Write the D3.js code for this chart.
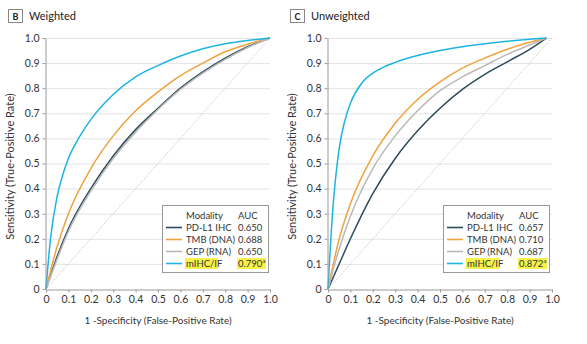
<!DOCTYPE html>
<meta charset="utf-8">
<style>
body { margin:0; background:#fff; font-family:"Lato", "Open Sans", sans-serif; }
.grid line { stroke:#e3e3e3; stroke-width:1; }
.axis path, .axis line { stroke:#999; }
.axis text { fill:#333; font-size:10.5px; font-family:"Lato", sans-serif; }
.title { font-size:11px; fill:#222; }
</style>
<svg width="587" height="344"></svg>
<script src="https://d3js.org/d3.v7.min.js"></script>
<script>

var modalities = ["PD-L1 IHC", "TMB (DNA)", "GEP (RNA)", "mIHC/IF"];
var colors = ["#2c4a5a", "#f0a23c", "#b9b9b9", "#1db4e3"];
var xTicks = [0, 0.1, 0.2, 0.3, 0.4, 0.5, 0.6, 0.7, 0.8, 0.9, 1.0];
var yTicks = [0, 0.1, 0.2, 0.3, 0.4, 0.5, 0.6, 0.7, 0.8, 0.9, 1.0];

// weighted panel
var aucWeighted = ["0.650", "0.688", "0.650", "0.790"];
var wPdl1 = [[0,0],[0.05,0.13],[0.1,0.24],[0.2,0.40],[0.3,0.53],[0.4,0.635],[0.5,0.72],[0.6,0.80],[0.7,0.865],[0.8,0.92],[0.9,0.965],[1,1]];
var wTmb  = [[0,0],[0.05,0.17],[0.1,0.30],[0.2,0.48],[0.3,0.61],[0.4,0.71],[0.5,0.785],[0.6,0.85],[0.7,0.90],[0.8,0.945],[0.9,0.975],[1,1]];
var wGep  = [[0,0],[0.05,0.12],[0.1,0.23],[0.2,0.39],[0.3,0.52],[0.4,0.625],[0.5,0.715],[0.6,0.795],[0.7,0.86],[0.8,0.915],[0.9,0.962],[1,1]];
var wMihc = [[0,0],[0.02,0.2],[0.05,0.37],[0.075,0.455],[0.1,0.52],[0.15,0.607],[0.2,0.675],[0.3,0.775],[0.4,0.845],[0.5,0.89],[0.6,0.928],[0.7,0.957],[0.8,0.977],[0.9,0.99],[1,1]];

// unweighted panel
var aucUnweighted = ["0.657", "0.710", "0.687", "0.872"];
var uPdl1 = [[0,0],[0.05,0.1],[0.1,0.2],[0.2,0.38],[0.3,0.52],[0.4,0.63],[0.5,0.72],[0.6,0.795],[0.7,0.855],[0.8,0.905],[0.9,0.955],[0.975,1]];
var uTmb  = [[0,0],[0.05,0.2],[0.1,0.34],[0.2,0.53],[0.3,0.66],[0.4,0.755],[0.5,0.825],[0.6,0.88],[0.7,0.92],[0.8,0.955],[0.9,0.983],[0.975,1]];
var uGep  = [[0,0],[0.05,0.16],[0.1,0.29],[0.2,0.48],[0.3,0.61],[0.4,0.71],[0.5,0.79],[0.6,0.845],[0.7,0.89],[0.8,0.935],[0.9,0.972],[0.975,1]];
var uMihc = [[0,0],[0.02,0.3],[0.05,0.56],[0.075,0.67],[0.1,0.74],[0.15,0.82],[0.2,0.86],[0.25,0.885],[0.3,0.903],[0.4,0.93],[0.5,0.95],[0.6,0.965],[0.7,0.977],[0.8,0.987],[0.9,0.995],[0.975,1]];

var panels = [
  { letter:"B", title:"Weighted", left:46, curves:[wPdl1, wTmb, wGep, wMihc], auc:aucWeighted, legendX:162 },
  { letter:"C", title:"Unweighted", left:328, curves:[uPdl1, uTmb, uGep, uMihc], auc:aucUnweighted, legendX:443 }
];

var svg = d3.select("svg");
var plotTop = 38, plotBottom = 289, plotW = 224;

panels.forEach(function(p) {
  var g = svg.append("g");
  var x = d3.scaleLinear().domain([0, 1]).range([p.left, p.left + plotW]);
  var y = d3.scaleLinear().domain([0, 1]).range([plotBottom, plotTop]);

  // panel heading
  g.append("rect").attr("x", p.left - 37.5).attr("y", 9.5).attr("width", 14).attr("height", 13)
    .attr("fill", "#fff").attr("stroke", "#888");
  g.append("text").attr("x", p.left - 30.5).attr("y", 19.5).attr("text-anchor", "middle")
    .style("font-size", "9px").style("font-weight", "bold").attr("fill", "#222").text(p.letter);
  g.append("text").attr("class", "title").attr("x", p.left - 17).attr("y", 19.5).text(p.title);

  // horizontal grid
  g.append("g").attr("class", "grid").selectAll("line").data(yTicks.slice(1)).enter().append("line")
    .attr("x1", x(0)).attr("x2", x(1)).attr("y1", function(d) { return y(d) + 0.5; }).attr("y2", function(d) { return y(d) + 0.5; });

  // chance line
  g.append("line").attr("x1", x(0)).attr("y1", y(0)).attr("x2", x(1)).attr("y2", y(1))
    .attr("stroke", "#aaa").attr("stroke-width", 0.8).attr("stroke-dasharray", "1,1.5");

  var line = d3.line().x(function(d) { return x(d[0]); }).y(function(d) { return y(d[1]); })
    .curve(d3.curveMonotoneX);

  g.selectAll("path.roc").data(p.curves).enter().append("path").attr("class", "roc")
    .attr("d", line).attr("fill", "none").attr("stroke-width", 1.5)
    .attr("stroke", function(d, i) { return colors[i]; });

  // axes
  var fmt = function(d) { return d === 0 ? "0" : d3.format(".1f")(d); };
  g.append("g").attr("class", "axis").attr("transform", "translate(0," + (plotBottom + 0.5) + ")")
    .call(d3.axisBottom(x).tickValues(xTicks).tickSize(3).tickSizeOuter(0).tickFormat(fmt));
  g.append("g").attr("class", "axis").attr("transform", "translate(" + (p.left - 0.5) + ",0)")
    .call(d3.axisLeft(y).tickValues(yTicks).tickSize(3).tickSizeOuter(0).tickFormat(fmt));

  g.append("text").attr("x", x(0.5)).attr("y", 324).attr("text-anchor", "middle")
    .style("font-size", "10px").attr("fill", "#333").text("1 -Specificity (False-Positive Rate)");
  g.append("text").attr("transform", "translate(" + (p.left - 32) + "," + (y(0.5) + 3) + ") rotate(-90)")
    .attr("text-anchor", "middle").style("font-size", "11px").attr("fill", "#333")
    .text("Sensitivity (True-Positive Rate)");

  // legend
  var lg = g.append("g").attr("transform", "translate(" + p.legendX + ",205)");
  lg.append("rect").attr("x", 0.5).attr("y", 0.5).attr("width", 106).attr("height", 67)
    .attr("fill", "#fff").attr("stroke", "#999");
  lg.append("text").attr("x", 24).attr("y", 14).style("font-size", "9.5px").attr("fill", "#333").text("Modality");
  lg.append("text").attr("x", 76).attr("y", 14).style("font-size", "9.5px").attr("fill", "#333").text("AUC");
  modalities.forEach(function(m, i) {
    var ry = 26 + i * 12;
    if (i === 3) {
      lg.append("rect").attr("x", 23).attr("y", ry - 9).attr("width", 33).attr("height", 11).attr("fill", "#f7f24a");
      lg.append("rect").attr("x", 75).attr("y", ry - 9).attr("width", 29).attr("height", 11).attr("fill", "#f7f24a");
    }
    lg.append("line").attr("x1", 4).attr("x2", 20).attr("y1", ry - 3.5).attr("y2", ry - 3.5)
      .attr("stroke", colors[i]).attr("stroke-width", 1.6);
    lg.append("text").attr("x", 24).attr("y", ry).style("font-size", "9.5px").attr("fill", "#333").text(m);
    var t = lg.append("text").attr("x", 76).attr("y", ry).style("font-size", "9.5px").attr("fill", "#333").text(p.auc[i]);
    if (i === 3) t.append("tspan").attr("dy", -4).style("font-size", "6.5px").text("a");
  });
});

</script>
